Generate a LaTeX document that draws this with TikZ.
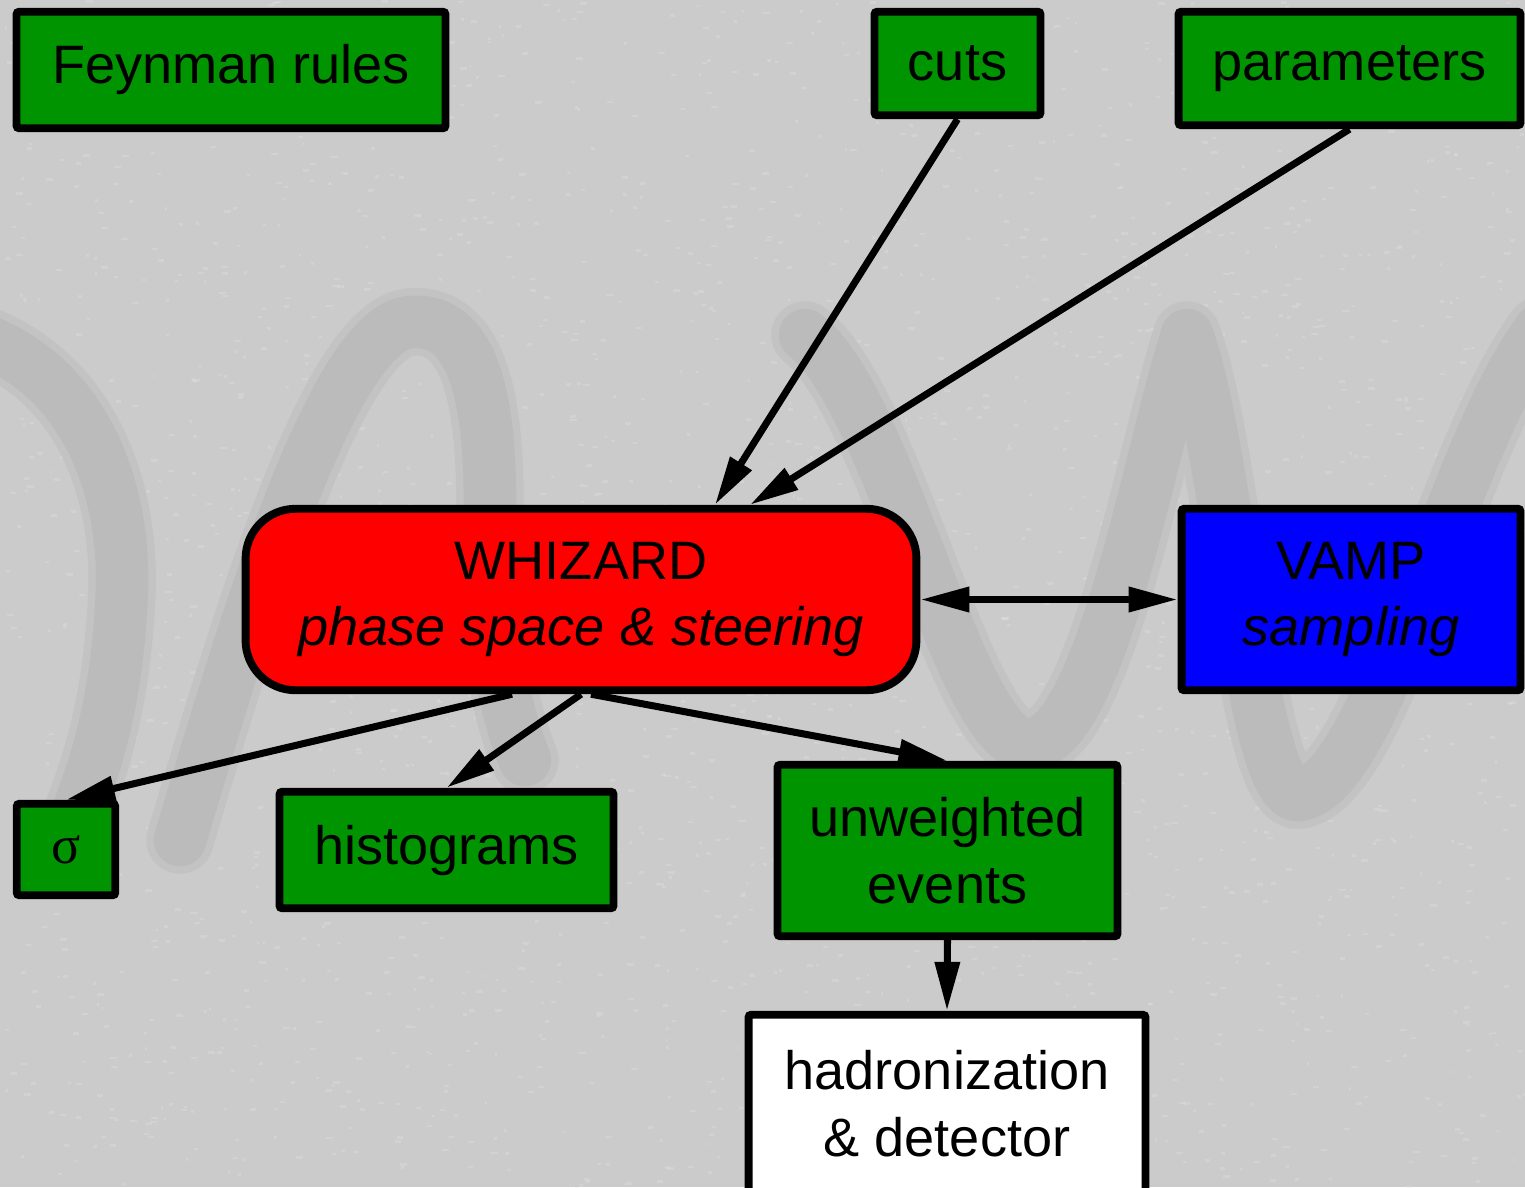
\documentclass[tikz,border=0pt]{standalone}
\usepackage{fontspec}
\setmainfont{Liberation Sans}
\newfontfamily\greekserif{Liberation Serif}
\usetikzlibrary{arrows.meta}
\definecolor{paper}{RGB}{203,203,203}
\definecolor{grain}{RGB}{228,228,228}
\definecolor{inkmark}{RGB}{187,187,187}
\definecolor{inkhalo}{RGB}{195,195,195}
\definecolor{boxgreen}{RGB}{0,148,0}

\begin{document}
\begin{tikzpicture}[x=0.02cm,y=-0.02cm,
  box/.style={draw=black, line width=4.5pt, inner sep=0pt, align=center,
    rounded corners=1.5pt, text=black, font=\fontsize{30.8}{38}\selectfont},
  gbox/.style={box, fill=boxgreen},
  link/.style={line width=4pt, -{Triangle[length=0.98cm,width=0.48cm]}},
  biglink/.style={line width=4pt, {Triangle[length=0.98cm,width=0.48cm]}-{Triangle[length=0.98cm,width=0.48cm]}},
  wmark/.style={line cap=round, line join=round}
]
% paper
\fill[paper] (0,0) rectangle (1525,1187);
\useasboundingbox (0,0) rectangle (1525,1187);
% paper grain
\pgfmathsetseed{4711}
\foreach \i in {1,...,2200}{
  \pgfmathsetmacro{\gx}{1525*rnd}
  \pgfmathsetmacro{\gy}{1187*rnd}
  \pgfmathsetmacro{\gw}{2+5*rnd}
  \fill[grain, opacity=0.3] (\gx,\gy) rectangle ++(\gw,2.5);
}

% faint handwritten watermark: soft halo, then the stroke itself
\foreach \w/\c in {1.35cm/inkhalo, 1.05cm/inkmark}{
  \draw[wmark, \c, line width=\w]
    (-30,335) .. controls (80,370) and (125,480) .. (122,590)
    .. controls (118,690) and (100,760) .. (70,830);
  \draw[wmark, \c, line width=\w]
    (180,840) .. controls (240,640) and (330,330) .. (410,322)
    .. controls (490,315) and (490,450) .. (490,520)
    .. controls (490,620) and (500,700) .. (525,760);
  \draw[wmark, \c, line width=\w]
    (805,335) .. controls (890,400) and (960,745) .. (1028,745)
    .. controls (1100,745) and (1150,450) .. (1187,335)
    .. controls (1230,450) and (1250,805) .. (1300,795)
    .. controls (1380,780) and (1450,450) .. (1540,330);
}

% boxes
\node[gbox, minimum width=8.58cm, minimum height=2.33cm] (feyn) at (231,70) {Feynman rules};
\node[gbox, minimum width=3.32cm, minimum height=2.07cm] (cuts) at (957.5,63.5) {cuts};
\node[gbox, minimum width=6.84cm, minimum height=2.27cm] (params) at (1349.5,68.5) {parameters};
\node[box, fill=red, rounded corners=1cm, minimum width=13.42cm, minimum height=3.63cm] (whiz)
  at (581,599.5) {WHIZARD\\\textit{phase space \& steering}};
\node[box, fill=blue, minimum width=6.78cm, minimum height=3.63cm] (vamp)
  at (1351,599.5) {VAMP\\\textit{sampling}};
\node[gbox, minimum width=1.97cm, minimum height=1.83cm] (sigma) at (66,849.5) {\greekserif σ};
\node[gbox, minimum width=6.68cm, minimum height=2.33cm] (hist) at (446.5,850) {histograms};
\node[gbox, minimum width=6.8cm, minimum height=3.43cm] (unw) at (947.5,850.5) {unweighted\\events};
\node[box, fill=white, minimum width=7.94cm, minimum height=3.57cm] (hadr)
  at (947,1104) {hadronization\\\& detector};

% connectors
\draw[link] (cuts.south) -- ([xshift=2.68cm]whiz.north);
\draw[link] (params.south) -- ([xshift=3.38cm]whiz.north);
\draw[biglink] (whiz.east) -- (vamp.west);
\draw[link] ([xshift=-1.38cm]whiz.south) -- (sigma.north);
\draw[link] (whiz.south) -- (hist.north);
\draw[link] ([xshift=0.2cm]whiz.south) -- (unw.north);
\draw[link] (unw.south) -- (hadr.north);
\end{tikzpicture}
\end{document}
